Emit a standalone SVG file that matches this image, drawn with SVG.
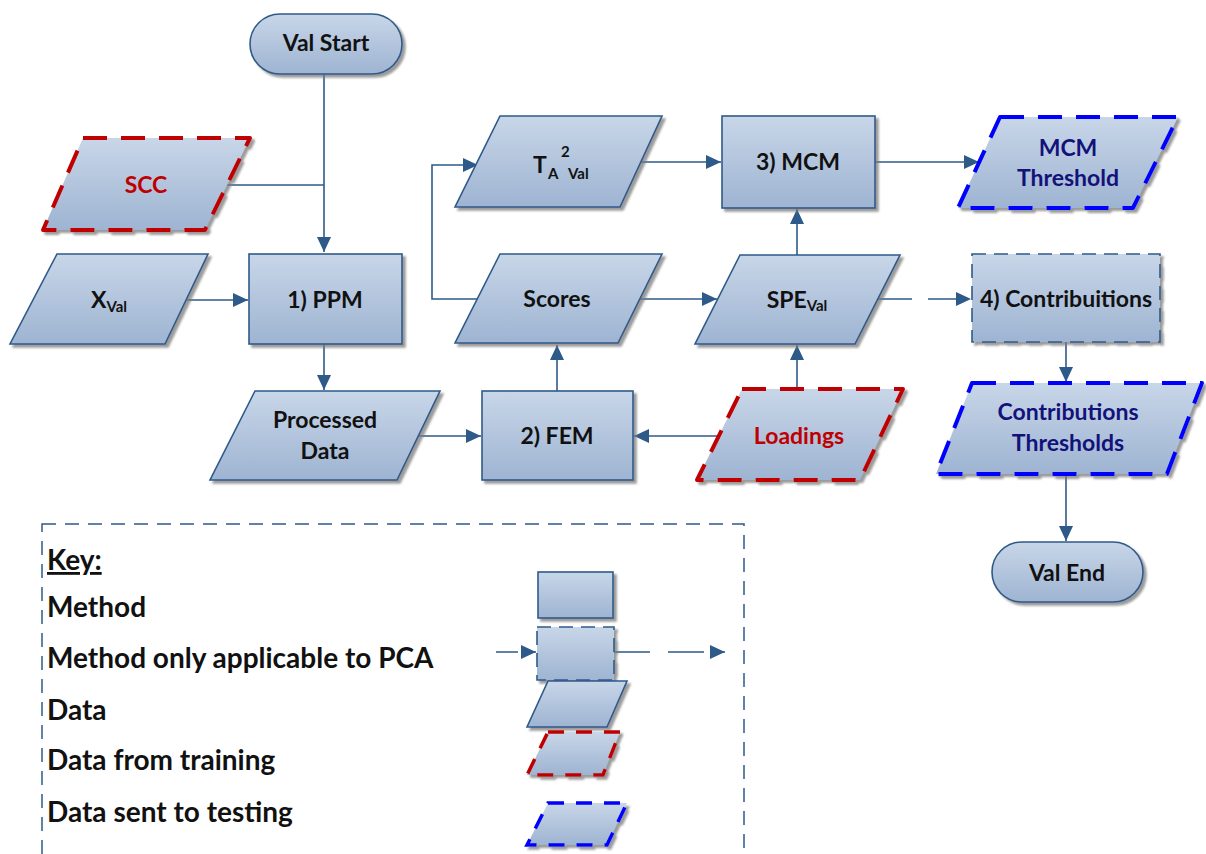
<svg xmlns="http://www.w3.org/2000/svg" width="1206" height="854" viewBox="0 0 1206 854">
<defs>
<linearGradient id="g" x1="0" y1="0" x2="0" y2="1">
<stop offset="0" stop-color="#c8d6e8"/>
<stop offset="1" stop-color="#9eb4d2"/>
</linearGradient>
<filter id="sh" x="-10%" y="-10%" width="130%" height="140%">
<feDropShadow dx="3" dy="3" stdDeviation="1.2" flood-color="#7a7a7a" flood-opacity="0.75"/>
</filter>
<marker id="ah" markerUnits="userSpaceOnUse" markerWidth="16" markerHeight="14" refX="15" refY="7" orient="auto">
<path d="M0,0 L15,7 L0,14 z" fill="#2e5a8a"/>
</marker>
<style>
.n{fill:url(#g);stroke:#2e5a8a;stroke-width:1.6;filter:url(#sh)}
.nd{fill:url(#g);stroke:#2e5a8a;stroke-width:1.6;stroke-dasharray:14 8;filter:url(#sh)}
.red{fill:url(#g);stroke:#c00000;stroke-width:4;stroke-dasharray:24 14;stroke-linejoin:round;filter:url(#sh)}
.blue{fill:url(#g);stroke:#0000ff;stroke-width:4;stroke-dasharray:24 14;stroke-linejoin:round;filter:url(#sh)}
.redk{fill:url(#g);stroke:#c00000;stroke-width:3.5;stroke-dasharray:16 12;filter:url(#sh)}
.bluek{fill:url(#g);stroke:#0000ff;stroke-width:3.5;stroke-dasharray:16 12;filter:url(#sh)}
.t{font-family:Lato,"Liberation Sans",sans-serif;font-weight:bold;font-size:23px;fill:#111;text-anchor:middle}
.tr{fill:#c00000}
.tb{fill:#12127a}
.s{font-size:15px}
.k{font-family:Lato,"Liberation Sans",sans-serif;font-weight:bold;font-size:28px;fill:#111}
.c{fill:none;stroke:#2e5a8a;stroke-width:1.6}
.cd{fill:none;stroke:#2e5a8a;stroke-width:1.6;stroke-dasharray:34 16}
</style>
</defs>

<g id="connectors">
<path class="c" d="M324,74 V252" marker-end="url(#ah)"/>
<path class="c" d="M227,185 H324"/>
<path class="c" d="M187,300 H248" marker-end="url(#ah)"/>
<path class="c" d="M324,344 V390" marker-end="url(#ah)"/>
<path class="c" d="M418,436 H481" marker-end="url(#ah)"/>
<path class="c" d="M719,436 H634" marker-end="url(#ah)"/>
<path class="c" d="M557,391 V345" marker-end="url(#ah)"/>
<path class="c" d="M797,389 V345" marker-end="url(#ah)"/>
<path class="c" d="M477,299 H432 V165 H478" marker-end="url(#ah)"/>
<path class="c" d="M640,299 H717" marker-end="url(#ah)"/>
<path class="c" d="M797,255 V209" marker-end="url(#ah)"/>
<path class="c" d="M640,162 H721" marker-end="url(#ah)"/>
<path class="c" d="M875,162 H979" marker-end="url(#ah)"/>
<path class="cd" d="M878,299 H971" marker-end="url(#ah)"/>
<path class="c" d="M1066,342 V382" marker-end="url(#ah)"/>
<path class="c" d="M1066,474 V541" marker-end="url(#ah)"/>
</g>

<g id="val-start">
<rect class="n" x="250" y="14" width="152" height="60" rx="30"/>
<text class="t" x="326" y="51">Val Start</text>
</g>

<g id="scc">
<polygon class="red" points="83,138 250,138 205,230 43,230"/>
<text class="t tr" x="146" y="193">SCC</text>
</g>

<g id="xval">
<polygon class="n" points="57,254 208,254 165,344 10,344"/>
<text class="t" x="109" y="308">X<tspan class="s" dy="4">Val</tspan></text>
</g>

<g id="ppm">
<rect class="n" x="249" y="254" width="153" height="90"/>
<text class="t" x="325" y="308">1) PPM</text>
</g>

<g id="processed-data">
<polygon class="n" points="255,391 440,391 397,480 210,480"/>
<text class="t" x="325" y="428">Processed</text>
<text class="t" x="325" y="459">Data</text>
</g>

<g id="fem">
<rect class="n" x="482" y="391" width="151" height="89"/>
<text class="t" x="557" y="444">2) FEM</text>
</g>

<g id="loadings">
<polygon class="red" points="742,389 903,389 860,480 697,480"/>
<text class="t tr" x="799" y="444">Loadings</text>
</g>

<g id="scores">
<polygon class="n" points="500,254 662,254 618,343 455,343"/>
<text class="t" x="557" y="307">Scores</text>
</g>

<g id="spe-val">
<polygon class="n" points="740,255 900,255 855,344 695,344"/>
<text class="t" x="797" y="308">SPE<tspan class="s" dy="3">Val</tspan></text>
</g>

<g id="ta2-val">
<polygon class="n" points="500,116 662,116 620,207 455,207"/>
<text class="t" style="text-anchor:start"><tspan x="533" y="173">T</tspan><tspan class="s" x="548" y="179">A</tspan><tspan class="s" x="561" y="157">2</tspan><tspan class="s" x="568" y="179">Val</tspan></text>
</g>

<g id="mcm">
<rect class="n" x="722" y="116" width="153" height="92"/>
<text class="t" x="798" y="170">3) MCM</text>
</g>

<g id="mcm-threshold">
<polygon class="blue" points="1000,117 1178,117 1133,208 958,208"/>
<text class="t tb" x="1068" y="156">MCM</text>
<text class="t tb" x="1068" y="186">Threshold</text>
</g>

<g id="contributions">
<rect class="nd" x="972" y="254" width="188" height="88"/>
<text class="t" x="1066" y="307">4) Contribuitions</text>
</g>

<g id="contributions-thresholds">
<polygon class="blue" points="972,383 1202,383 1167,474 936,474"/>
<text class="t tb" x="1068" y="420">Contributions</text>
<text class="t tb" x="1068" y="451">Thresholds</text>
</g>

<g id="val-end">
<rect class="n" x="992" y="542" width="151" height="60" rx="30"/>
<text class="t" x="1067" y="581">Val End</text>
</g>

<g id="key">
<rect x="42" y="524" width="702" height="360" fill="none" stroke="#2e5a8a" stroke-width="1.5" stroke-dasharray="14 9"/>
<text class="k" x="47" y="570" text-decoration="underline">Key:</text>
<text class="k" x="47" y="617">Method</text>
<text class="k" x="47" y="668">Method only applicable to PCA</text>
<text class="k" x="47" y="720">Data</text>
<text class="k" x="47" y="770">Data from training</text>
<text class="k" x="47" y="822">Data sent to testing</text>
<rect class="n" x="538" y="572" width="75" height="46"/>
<path fill="none" stroke="#2e5a8a" stroke-width="1.6" stroke-dasharray="22 12" d="M496,652 H536" marker-end="url(#ah)"/>
<path fill="none" stroke="#2e5a8a" stroke-width="1.6" stroke-dasharray="36 18" d="M614,652 H725" marker-end="url(#ah)"/>
<rect class="nd" x="537" y="627" width="77" height="53"/>
<polygon class="n" points="548,681 627,681 607,727 527,727"/>
<polygon class="redk" points="548,732 620,732 603,775 527,775"/>
<polygon class="bluek" points="548,803 627,803 607,845 527,845"/>
</g>
</svg>
